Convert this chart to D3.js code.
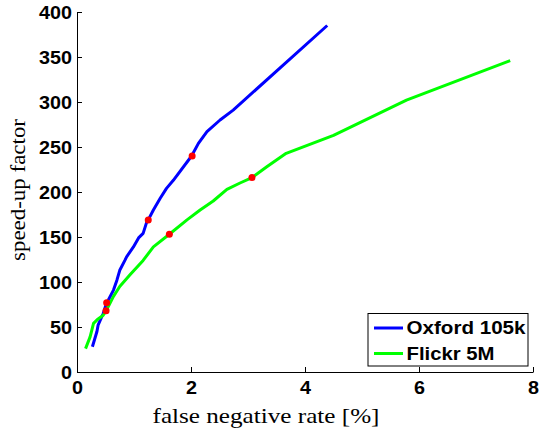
<!DOCTYPE html>
<html>
<head>
<meta charset="utf-8">
<script src="https://cdn.jsdelivr.net/npm/d3@7"></script>
<style>
  body { margin: 0; background: #fff; }
  svg { display: block; }
</style>
</head>
<body>
<div id="chart"></div>
<script>
// values
var oxfordX = [0.27, 0.35, 0.37, 0.46, 0.52, 0.55, 0.64, 0.70, 0.75, 0.84, 0.87, 0.99, 1.08, 1.16, 1.22, 1.25, 1.34, 1.46, 1.57, 1.69, 2.01, 2.13, 2.28, 2.51, 2.74, 4.39];
var oxfordY = [28, 45, 52, 65, 77, 80, 91, 102, 113, 124, 128, 139, 149, 154, 166, 169, 180, 193, 204, 213, 240, 254, 267, 280, 291, 385];
var flickrX = [0.15, 0.23, 0.29, 0.37, 0.46, 0.52, 0.64, 0.75, 0.93, 1.16, 1.34, 1.62, 1.93, 2.16, 2.39, 2.63, 2.86, 3.07, 3.33, 3.67, 4.50, 5.78, 7.60];
var flickrY = [26, 39, 54, 59, 63, 69, 84, 95, 108, 124, 139, 153, 169, 180, 190, 203, 210, 216, 228, 243, 263, 302, 346];
// marked operating points
var dotX = [0.52, 1.25, 2.02, 0.51, 1.62, 3.07];
var dotY = [77, 169, 240, 68, 153, 216];
var seriesNames = ["Oxford 105k", "Flickr 5M"];
var seriesColors = ["#0000ff", "#00ff00"];
var xTicks = [0, 2, 4, 6, 8];
var yTicks = [0, 50, 100, 150, 200, 250, 300, 350, 400];

var W = 539, H = 431;
var x = d3.scaleLinear().domain([0, 8]).range([77, 533]);
var y = d3.scaleLinear().domain([0, 400]).range([372, 12]);

var svg = d3.select("#chart").append("svg")
    .attr("width", W)
    .attr("height", H);

var line = d3.line()
    .x(function(d) { return x(d[0]); })
    .y(function(d) { return y(d[1]); });

var series = [d3.zip(oxfordX, oxfordY), d3.zip(flickrX, flickrY)];

svg.selectAll("path.series")
    .data(series)
    .enter().append("path")
    .attr("class", "series")
    .attr("fill", "none")
    .attr("stroke", function(d, i) { return seriesColors[i]; })
    .attr("stroke-width", 3)
    .attr("stroke-linejoin", "round")
    .attr("d", line);

svg.selectAll("circle.dot")
    .data(d3.zip(dotX, dotY))
    .enter().append("circle")
    .attr("class", "dot")
    .attr("cx", function(d) { return x(d[0]); })
    .attr("cy", function(d) { return y(d[1]); })
    .attr("r", 3.5)
    .attr("fill", "#ff0000");

// axes, ticks pointing inward like matlab
var xAxis = svg.append("g")
    .attr("transform", "translate(0," + y(0) + ")")
    .call(d3.axisBottom(x).tickValues(xTicks).tickSizeInner(-5).tickSizeOuter(0).tickPadding(10));
var yAxis = svg.append("g")
    .attr("transform", "translate(" + x(0) + ",0)")
    .call(d3.axisLeft(y).tickValues(yTicks).tickSizeInner(-5).tickSizeOuter(0).tickPadding(5));

[xAxis, yAxis].forEach(function(g) {
    g.select(".domain").attr("stroke", "#000").attr("stroke-width", 1);
    g.selectAll(".tick line").attr("stroke", "#000");
    g.selectAll(".tick text")
        .attr("fill", "#000")
        .attr("font-family", "'Liberation Sans', Arial, sans-serif")
        .attr("font-weight", "bold")
        .attr("font-size", "18px");
});
xAxis.selectAll(".tick text")
    .attr("dy", "0.68em")
    .attr("textLength", 11)
    .attr("lengthAdjust", "spacingAndGlyphs");
yAxis.selectAll(".tick text")
    .attr("dy", "0.36em")
    .attr("textLength", function(d) { return String(d).length * 11; })
    .attr("lengthAdjust", "spacingAndGlyphs");

// axis titles
svg.append("text")
    .attr("x", 266)
    .attr("y", 423)
    .attr("text-anchor", "middle")
    .attr("font-family", "'Liberation Serif', 'Times New Roman', serif")
    .attr("font-size", "22px")
    .attr("textLength", 227)
    .attr("lengthAdjust", "spacingAndGlyphs")
    .text("false negative rate [%]");

svg.append("text")
    .attr("transform", "translate(25,190) rotate(-90)")
    .attr("text-anchor", "middle")
    .attr("font-family", "'Liberation Serif', 'Times New Roman', serif")
    .attr("font-size", "22px")
    .attr("textLength", 142)
    .attr("lengthAdjust", "spacingAndGlyphs")
    .text("speed-up factor");

// legend
var legend = svg.append("g");
legend.append("rect")
    .attr("x", 368)
    .attr("y", 313.5)
    .attr("width", 160)
    .attr("height", 52.5)
    .attr("fill", "#fff")
    .attr("stroke", "#000")
    .attr("stroke-width", 1);

var rows = legend.selectAll("g.row")
    .data(seriesNames)
    .enter().append("g")
    .attr("class", "row")
    .attr("transform", function(d, i) { return "translate(0," + (328 + i * 25.5) + ")"; });
rows.append("line")
    .attr("x1", 374).attr("x2", 403)
    .attr("stroke", function(d, i) { return seriesColors[i]; })
    .attr("stroke-width", 3);
rows.append("text")
    .attr("x", 406.5)
    .attr("dy", "0.36em")
    .attr("font-family", "'Liberation Sans', Arial, sans-serif")
    .attr("font-weight", "bold")
    .attr("font-size", "18px")
    .attr("textLength", function(d, i) { return i === 0 ? 119 : 88; })
    .attr("lengthAdjust", "spacingAndGlyphs")
    .text(function(d) { return d; });
</script>
</body>
</html>
